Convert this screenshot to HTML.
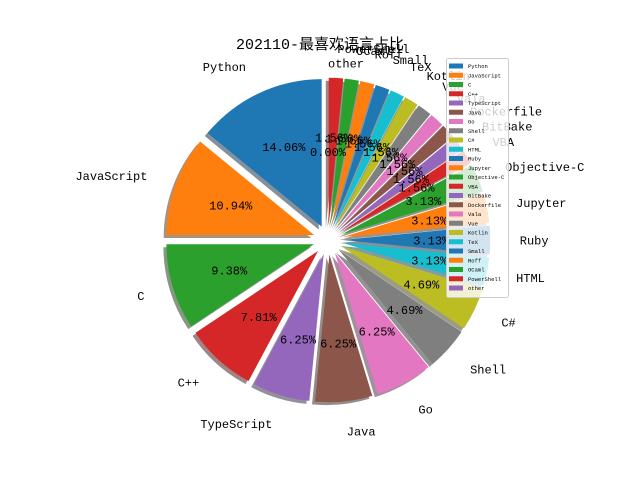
<!DOCTYPE html>
<html><head><meta charset="utf-8"><style>
html,body{margin:0;padding:0;background:#fff;}
svg text{font-family:"Liberation Mono","Noto Sans CJK SC",monospace;}
</style></head><body>
<svg id="chart" width="640" height="480" viewBox="0 0 640 480" xmlns="http://www.w3.org/2000/svg">
<rect width="640" height="480" fill="#fff"/>
<text x="320" y="49" text-anchor="middle" font-size="15" fill="#000">202110-最喜欢语言占比</text>
<g id="shadows"></g><g id="wedges"></g><g id="labels"></g><g id="legend"></g>
</svg>
<script>
const categories = ["Python","JavaScript","C","C++","TypeScript","Java","Go","Shell","C#","HTML","Ruby","Jupyter","Objective-C","VBA","BitBake","Dockerfile","Vala","Vue","Kotlin","TeX","Small","Roff","OCaml","PowerShell","other"];
const counts = [9,7,6,5,4,4,4,3,3,2,2,2,2,1,1,1,1,1,1,1,1,1,1,1,0];
const explodes = [0.1,0.1,0.1,0.1,0.1,0.1,0.1,0.1,0.1,0.1,0.1,0.1,0.1,0.1,0.1,0.1,0.1,0.1,0.1,0.1,0.1,0.1,0.1,0.1,0];
const colors = ["#1f77b4","#ff7f0e","#2ca02c","#d62728","#9467bd","#8c564b","#e377c2","#7f7f7f","#bcbd22","#17becf"];
const NS="http://www.w3.org/2000/svg";
const cx=328, cy=240, r=147.5, startAngle=90;
const total=counts.reduce((a,b)=>a+b,0);
function mk(tag,attrs,parent){const e=document.createElementNS(NS,tag);for(const k in attrs)e.setAttribute(k,attrs[k]);parent.appendChild(e);return e;}
function pt(x,y,R,deg){const a=deg*Math.PI/180;return [x+R*Math.cos(a), y-R*Math.sin(a)];}
function shade(hex){const n=parseInt(hex.slice(1),16);const c=[(n>>16)&255,(n>>8)&255,n&255].map(v=>Math.round(v*0.3));return "rgb("+c.join(",")+")";}
const gS=document.getElementById('shadows'),gW=document.getElementById('wedges'),gL=document.getElementById('labels'),gLeg=document.getElementById('legend');
let theta=startAngle;
const sh=0.02*r;
categories.forEach((cat,i)=>{
  const frac=counts[i]/total, t1=theta, t2=theta+frac*360, tm=(t1+t2)/2;
  const col=colors[i%10];
  const [ox,oy]=pt(cx,cy,explodes[i]*r,tm);
  if(frac>0){
    const large=(t2-t1)>180?1:0;
    const p=(dx,dy)=>{const a=pt(ox+dx,oy+dy,r,t1),b=pt(ox+dx,oy+dy,r,t2);return `M${ox+dx},${oy+dy} L${a[0]},${a[1]} A${r},${r} 0 ${large} 0 ${b[0]},${b[1]} Z`;};
    const s=mk('path',{d:p(-sh,sh),fill:shade(col),'fill-opacity':0.5},gS);
    
    
    const w=mk('path',{d:p(0,0),fill:col},gW);
    
    
  }
  const [px,py]=pt(ox,oy,0.6*r,tm);
  const pc=mk('text',{x:px,y:py+4.5,'text-anchor':'middle','font-size':12,fill:'#000'},gL);
  pc.textContent=(frac*100).toFixed(2)+'%';
  
  
  const [lx,ly]=pt(ox,oy,1.2*r,tm);
  const right=Math.cos(tm*Math.PI/180)>0;
  const lb=mk('text',{x:lx,y:ly+4.5,'text-anchor':(right?'start':'end'),'font-size':12,fill:'#000'},gL);
  lb.textContent=cat;
  
  
  theta=t2;
});
const bx=446,by=58,bw=62,bh=239;
const box=mk('rect',{x:bx+0.5,y:by+0.5,width:bw,height:bh,rx:2,fill:'#fff','fill-opacity':0.8,stroke:'#ccc','stroke-width':1},gLeg);


categories.forEach((cat,i)=>{
  const y=by+8+i*9.25;
  const g=mk('g',{},gLeg);
  
  
  mk('rect',{x:bx+3,y:y-2.5,width:14,height:5,fill:colors[i%10]},g);
  const t=mk('text',{x:bx+22,y:y+2,'font-size':5.5,fill:'#000'},g);
  t.textContent=cat;
});
</script>
</body></html>
